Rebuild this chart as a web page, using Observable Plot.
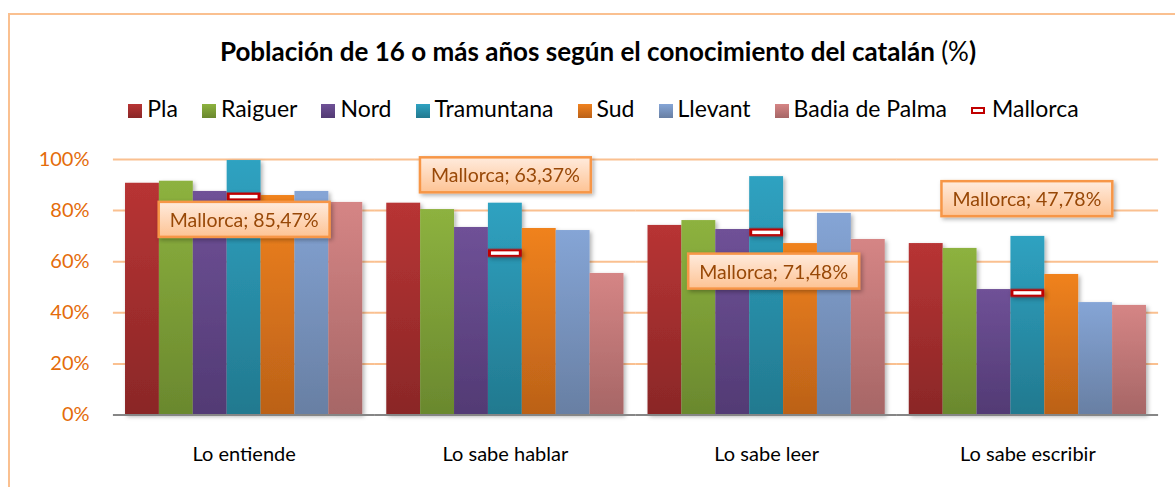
<!DOCTYPE html>
<html><head><meta charset="utf-8">
<script src="https://cdn.jsdelivr.net/npm/d3@7"></script>
<script src="https://cdn.jsdelivr.net/npm/@observablehq/plot@0.6"></script>
<style>
body{margin:0;background:#fff;font-family:Lato,sans-serif;}
#wrap{position:relative;width:1175px;height:487px;overflow:hidden;background:#fff}
#frame{position:absolute;left:8px;top:13px;width:1300px;height:600px;border-left:2px solid #FAC090;border-top:2px solid #FAC090;}
#title{position:absolute;left:20px;width:1156px;top:36px;text-align:center;font-size:26px;font-weight:700;line-height:1.2;color:#000;white-space:nowrap}
#legend{position:absolute;left:0;width:1207px;top:95px;display:flex;justify-content:center;font-size:23px;line-height:1.2;color:#000;white-space:nowrap}
.li{display:flex;align-items:center;margin:0 12px}
.sw{width:14px;height:14px;margin-right:5px;margin-top:4px}
.mk{width:10px;height:3px;border:2px solid #C00000;background:#fff;margin-right:7px;margin-top:3px}
#chart{position:absolute;left:0;top:135px}
</style></head>
<body>
<div id="wrap">
  <div id="frame"></div>
  <div id="title">Población de 16 o más años según el conocimiento del catalán <span style="font-weight:400">(%</span>)</div>
  <div id="legend"></div>
  <div id="chart"></div>
</div>
<script>
const groups = ["Lo entiende", "Lo sabe hablar", "Lo sabe leer", "Lo sabe escribir"];
const series = ["Pla", "Raiguer", "Nord", "Tramuntana", "Sud", "Llevant", "Badia de Palma"];
const pla        = [90.7, 82.9, 74.2, 67.1];
const raiguer    = [91.5, 80.4, 76.1, 65.2];
const nord       = [87.5, 73.4, 72.6, 49.1];
const tramuntana = [99.6, 82.9, 93.3, 69.9];
const sud        = [85.9, 73.0, 67.1, 55.0];
const llevant    = [87.5, 72.2, 78.9, 44.0];
const badia      = [83.2, 55.4, 68.7, 42.9];
const mallorca   = [85.47, 63.37, 71.48, 47.78];
const mallorcaName = "Mallorca";
const yTicks = [0, 20, 40, 60, 80, 100];

const values = [pla, raiguer, nord, tramuntana, sud, llevant, badia];
const rows = [];
series.forEach((s, i) => groups.forEach((g, j) => rows.push({group: g, series: s, value: values[i][j]})));
const mRows = groups.map((g, j) => ({group: g, value: mallorca[j]}));

// styling
const gradTop    = ["#B83434", "#8DB23F", "#6F5197", "#2FA2C1", "#F0821F", "#85A5D6", "#D58585"];
const gradBottom = ["#8A2727", "#6A882E", "#523A74", "#22798F", "#BB6118", "#687FA3", "#A66666"];
const calloutDx = [0, 0, 7, -1];
const calloutDy = [24, -77, 40, -93];

// legend
const legend = document.getElementById("legend");
series.forEach((s, i) => {
  const it = document.createElement("div"); it.className = "li";
  const sw = document.createElement("div"); sw.className = "sw";
  sw.style.background = `linear-gradient(${gradTop[i]}, ${gradBottom[i]})`;
  it.append(sw, document.createTextNode(s)); legend.append(it);
});
{
  const it = document.createElement("div"); it.className = "li";
  const mk = document.createElement("div"); mk.className = "mk";
  it.append(mk, document.createTextNode(mallorcaName)); legend.append(it);
}

const fmt = v => `${mallorcaName}; ${v.toFixed(2).replace(".", ",")}%`;
const callouts = mRows.map((d, i) => Plot.text([d], {
  fx: "group", x: () => "Tramuntana", y: "value", text: d => fmt(d.value),
  dx: calloutDx[i], dy: calloutDy[i], fill: "#984807", fontSize: 19.5
}));

const chart = Plot.plot({
  width: 1175, height: 352,
  marginLeft: 113, marginRight: 17, marginTop: 24, marginBottom: 72.5,
  style: {fontFamily: "Lato, sans-serif", fontSize: "20px", background: "transparent", overflow: "visible"},
  fx: {domain: groups, paddingInner: 0.092, paddingOuter: 0.046, round: false, label: null},
  x: {domain: series, padding: 0, round: false, axis: null},
  y: {domain: [0, 100]},
  color: {domain: series, range: series.map((_, i) => `url(#grad${i})`)},
  marks: [
    Plot.ruleY(yTicks.slice(1), {stroke: "#FAC090", strokeWidth: 2, insetLeft: -12.1, insetRight: -12.1}),
    Plot.axisY({ticks: yTicks, tickFormat: d => d + "%", tickSize: 0, tickPadding: 36, fill: "#E46C0A", fontSize: 20, label: null}),
    Plot.barY(rows, {fx: "group", x: "series", y: "value", fill: "series"}),
    Plot.ruleY([0], {stroke: "#868686", strokeWidth: 2, insetLeft: -12.1, insetRight: -12.1}),
    Plot.tickY(mRows, {fx: "group", x: () => "Tramuntana", y: "value", stroke: "#C00000", strokeWidth: 8}),
    Plot.tickY(mRows, {fx: "group", x: () => "Tramuntana", y: "value", stroke: "#fff", strokeWidth: 3.5, inset: 3}),
    ...callouts,
    Plot.axisFx({anchor: "bottom", tickSize: 0, tickPadding: 32, fontSize: 20, fill: "#000", label: null})
  ]
});
document.getElementById("chart").append(chart);

// defs: gradients and shadow
const ns = "http://www.w3.org/2000/svg";
const defs = document.createElementNS(ns, "defs");
let html = "";
gradTop.forEach((c, i) => {
  html += `<linearGradient id="grad${i}" x1="0" y1="0" x2="0" y2="1"><stop offset="0" stop-color="${c}"/><stop offset="1" stop-color="${gradBottom[i]}"/></linearGradient>`;
});
html += `<linearGradient id="calloutGrad" x1="0" y1="0" x2="0" y2="1"><stop offset="0" stop-color="#FFEBDD"/><stop offset="1" stop-color="#FDC394"/></linearGradient>`;
html += `<filter id="shadow" x="-20%" y="-20%" width="140%" height="140%"><feDropShadow dx="2" dy="2" stdDeviation="2" flood-color="#000" flood-opacity="0.3"/></filter>`;
defs.innerHTML = html;
chart.prepend(defs);
chart.querySelectorAll('g[aria-label="bar"]').forEach(g => g.setAttribute("filter", "url(#shadow)"));
const tickGroups = chart.querySelectorAll('g[aria-label="tick"]');
if (tickGroups.length) tickGroups[0].setAttribute("filter", "url(#shadow)");

chart.querySelectorAll('g[aria-label="text"] text').forEach(t => {
  const b = t.getBBox();
  const w = b.width + 22, h = 35;
  const r = document.createElementNS(ns, "rect");
  r.setAttribute("x", b.x + b.width / 2 - w / 2);
  r.setAttribute("y", b.y + b.height / 2 - h / 2);
  r.setAttribute("width", w); r.setAttribute("height", h);
  if (t.getAttribute("transform")) r.setAttribute("transform", t.getAttribute("transform"));
  r.setAttribute("fill", "url(#calloutGrad)");
  r.setAttribute("stroke", "#F79646"); r.setAttribute("stroke-width", 2.5);
  r.setAttribute("filter", "url(#shadow)");
  t.parentNode.insertBefore(r, t);
});
</script>
</body></html>
